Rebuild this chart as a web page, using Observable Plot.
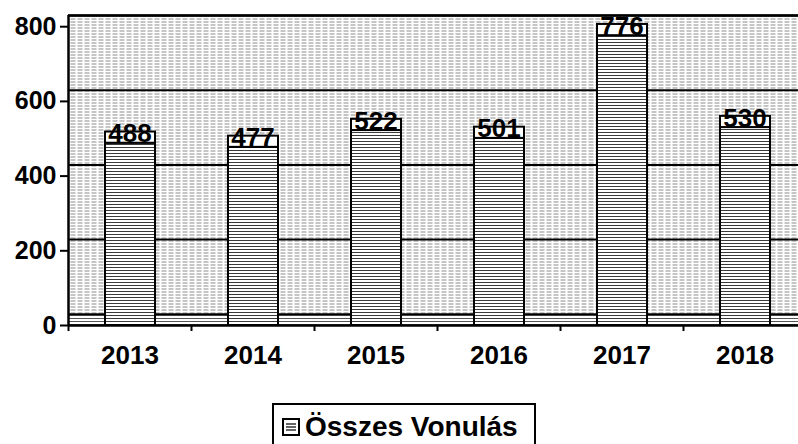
<!DOCTYPE html>
<html>
<head>
<meta charset="utf-8">
<script src="https://cdn.jsdelivr.net/npm/d3@7"></script>
<script src="https://cdn.jsdelivr.net/npm/@observablehq/plot@0.6"></script>
<style>
  html, body { margin: 0; padding: 0; overflow: hidden; background: white; }
  body { width: 798px; height: 444px; font-family: "Liberation Sans", Arial, sans-serif; }
  #chart svg { display: block; }
  #legend {
    margin-left: 272px; margin-top: 3px; width: 264px; height: 48px;
    box-sizing: border-box; border: 2px solid black; border-bottom: none;
    display: flex; align-items: flex-start; padding-left: 8px; padding-top: 7px;
    font-weight: bold; font-size: 28px; line-height: 30px; color: black; white-space: nowrap;
  }
  #legend svg { margin-right: 5px; margin-top: 6px; flex: none; }
</style>
</head>
<body>
<div id="chart"></div>
<div id="legend"></div>
<script>
// ---- data ----
const years = ["2013", "2014", "2015", "2016", "2017", "2018"];
const values = [488, 477, 522, 501, 776, 530];
const yTicks = [0, 200, 400, 600, 800];
const seriesName = "Összes Vonulás";

// ---- style constants ----
const depth = 30;           // 3D depth of back wall, in value units
const W = 798, H = 400;
const left = 68, rightEdge = 806;
const step = (rightEdge - left) / years.length;

const data = years.map((y, i) => ({year: y, value: values[i]}));
const grid = yTicks.map(t => t + depth);
const font = "'Liberation Sans', Arial, sans-serif";

const plot = Plot.plot({
  width: W,
  height: H,
  marginLeft: left,
  marginRight: 0,
  marginTop: 15,
  marginBottom: 75,
  style: {fontFamily: font, background: "white", overflow: "visible"},
  x: {domain: years, range: [left, rightEdge], padding: 0, label: null},
  y: {domain: [0, 800 + depth], ticks: yTicks, label: null},
  marks: [
    Plot.frame({fill: "url(#bgHatch)", stroke: "none"}),
    // floor strip
    Plot.rectY([0], {x1: () => years[0], x2: () => years[years.length - 1], y1: 0, y2: depth, fill: "url(#floorHatch)", insetRight: -step}),
    Plot.ruleY(grid, {stroke: "black", strokeWidth: 2}),
    Plot.ruleY([800 + depth], {stroke: "black", strokeWidth: 2.5}),
    // bars: front face
    Plot.barY(data, {x: "year", y: "value", fill: "url(#barHatch)", stroke: "black", strokeWidth: 2, insetLeft: 37, insetRight: 36}),
    // bars: top face
    Plot.barY(data, {x: "year", y1: d => d.value, y2: d => d.value + depth, fill: "white", stroke: "black", strokeWidth: 2, insetLeft: 37, insetRight: 36}),
    Plot.text(data, {x: "year", y: "value", text: d => String(d.value), lineAnchor: "bottom", dy: -1, fontSize: 26, fontWeight: "bold", fill: "black", fontFamily: font}),
    // axis lines
    Plot.ruleY([0], {stroke: "black", strokeWidth: 2.5}),
    Plot.ruleX(years.slice(0, 1), {x: d => d, dx: -step / 2, stroke: "black", strokeWidth: 2.5}),
    // category boundary ticks
    Plot.ruleX(years, {x: d => d, dx: -step / 2, y1: 0, y2: 0, insetBottom: -6, stroke: "black", strokeWidth: 2}),
    Plot.axisY({ticks: yTicks, tickSize: 8, tickPadding: 4, fontSize: 25, fontWeight: "bold", fill: "black", stroke: "black", strokeWidth: 2, tickFormat: d => String(d), label: null}),
    Plot.axisX({tickSize: 0, tickPadding: 20, fontSize: 26, fontWeight: "bold", fill: "black", label: null})
  ]
});

// patterns
const ns = "http://www.w3.org/2000/svg";
const defs = document.createElementNS(ns, "defs");
defs.innerHTML = `
  <pattern id="bgHatch" width="7" height="3" patternUnits="userSpaceOnUse">
    <rect width="7" height="3" fill="#ffffff"/>
    <rect x="0" y="0" width="5" height="1" fill="#8a8a8a"/>
  </pattern>
  <pattern id="barHatch" width="6" height="3" patternUnits="userSpaceOnUse">
    <rect width="6" height="3" fill="#ffffff"/>
    <rect x="0" y="0" width="6" height="1" fill="#3a3a3a"/>
  </pattern>
  <pattern id="floorHatch" width="6" height="3" patternUnits="userSpaceOnUse">
    <rect width="6" height="3" fill="#ffffff"/>
    <rect x="0" y="0" width="6" height="1" fill="#555"/>
  </pattern>`;
plot.insertBefore(defs, plot.firstChild);
document.getElementById("chart").appendChild(plot);

// legend
const legend = document.getElementById("legend");
legend.innerHTML = `<svg width="18" height="18" viewBox="0 0 18 18">
  <rect x="1" y="1" width="16" height="16" fill="white" stroke="black" stroke-width="2"/>
  <line x1="4" x2="14" y1="6" y2="6" stroke="#333" stroke-width="1.5"/>
  <line x1="4" x2="14" y1="9" y2="9" stroke="#333" stroke-width="1.5"/>
  <line x1="4" x2="14" y1="12" y2="12" stroke="#333" stroke-width="1.5"/>
</svg><span>${seriesName}</span>`;
</script>
</body>
</html>
